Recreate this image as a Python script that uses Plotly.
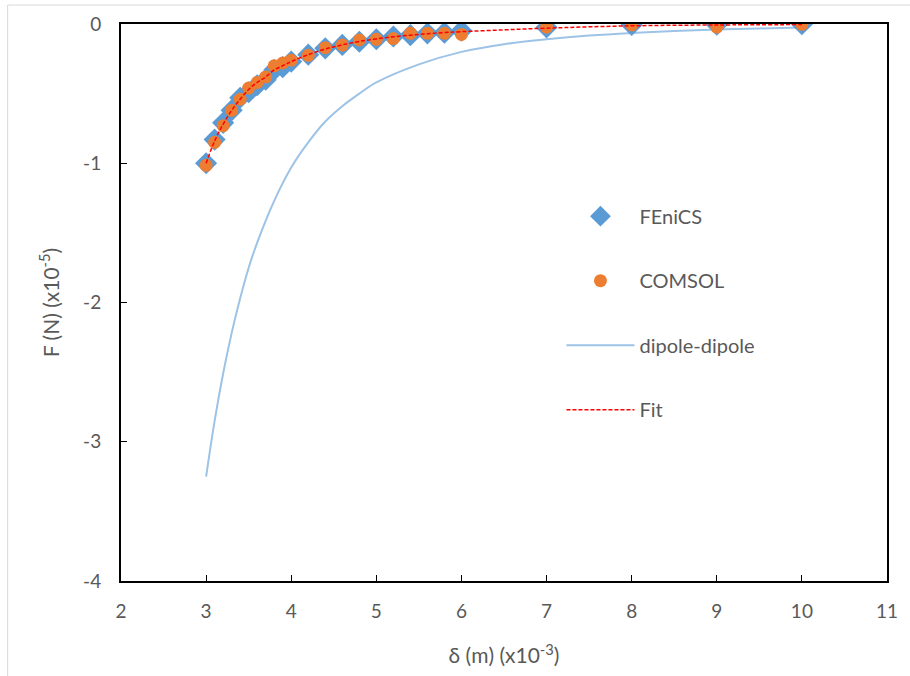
import plotly.graph_objects as go

# FEniCS data
fenics_x = [3.0, 3.1, 3.2, 3.3, 3.4, 3.5, 3.6, 3.7, 3.8, 3.9, 4.0, 4.2, 4.4, 4.6, 4.8,
            5.0, 5.2, 5.4, 5.6, 5.8, 6.0, 7, 8, 9, 10]
fenics_y = [-1.00, -0.83, -0.71, -0.62, -0.53, -0.49, -0.44, -0.40, -0.33, -0.31, -0.27,
            -0.22, -0.175, -0.15, -0.127, -0.11, -0.09, -0.08, -0.067, -0.062, -0.048,
            -0.024, -0.007, -0.005, -0.002]

# COMSOL data
comsol_x = [3.0, 3.1, 3.2, 3.3, 3.4, 3.5, 3.6, 3.7, 3.8, 3.9, 4.0, 4.2, 4.4, 4.6, 4.8,
            5.0, 5.2, 5.4, 5.6, 5.8, 6.0, 7, 8, 9, 10]
comsol_y = [-1.015, -0.85, -0.73, -0.62, -0.54, -0.46, -0.42, -0.38, -0.30, -0.28, -0.26,
            -0.225, -0.17, -0.15, -0.115, -0.11, -0.105, -0.067, -0.067, -0.067, -0.075,
            -0.022, -0.007, -0.022, -0.002]

# dipole-dipole curve
dipole_x = [3.0, 3.1, 3.2, 3.3, 3.4, 3.5, 3.6, 3.8, 4.0, 4.2, 4.4, 4.6, 4.8, 5.0, 5.5,
            6.0, 6.5, 7.0, 7.5, 8.0, 8.5, 9.0, 9.5, 10.0]
dipole_y = [-3.25, -2.85, -2.51, -2.22, -1.97, -1.75, -1.57, -1.27, -1.03, -0.85, -0.70,
            -0.59, -0.50, -0.42, -0.29, -0.20, -0.145, -0.11, -0.083, -0.064, -0.050,
            -0.040, -0.032, -0.026]

# Fit curve
fit_x = [3.0, 3.1, 3.2, 3.3, 3.4, 3.5, 3.6, 3.7, 3.8, 3.9, 4.0, 4.2, 4.4, 4.6, 4.8,
         5.0, 5.2, 5.4, 5.6, 5.8, 6.0, 6.5, 7, 8, 9, 10]
fit_y = [-1.00, -0.84, -0.72, -0.62, -0.54, -0.47, -0.42, -0.38, -0.33, -0.30, -0.27,
         -0.22, -0.18, -0.15, -0.125, -0.107, -0.092, -0.080, -0.070, -0.062, -0.055,
         -0.042, -0.030, -0.013, -0.007, -0.004]

x_ticks = [2, 3, 4, 5, 6, 7, 8, 9, 10, 11]
y_ticks = [0, -1, -2, -3, -4]
y_ticktext = ["0", "-1", "-2", "-3", "-4"]

font_family = "Lato, 'Open Sans', sans-serif"
grey = "#595959"

fig = go.Figure()
fig.add_trace(go.Scatter(x=dipole_x, y=dipole_y, mode="lines", name="dipole-dipole",
                         line=dict(color="#9DC3E6", width=2, shape="spline"),
                         legendgroup="c", legendrank=3))
fig.add_trace(go.Scatter(x=fenics_x, y=fenics_y, mode="markers", name="FEniCS",
                         marker=dict(symbol="diamond", color="#5B9BD5", size=17),
                         legendgroup="a", legendrank=1))
fig.add_trace(go.Scatter(x=comsol_x, y=comsol_y, mode="markers", name="COMSOL",
                         marker=dict(symbol="circle", color="#ED7D31", size=13),
                         legendgroup="b", legendrank=2))
fig.add_trace(go.Scatter(x=fit_x, y=fit_y, mode="lines", name="Fit",
                         line=dict(color="#FF0000", width=1.5, dash="4px,2px", shape="spline"),
                         legendgroup="d", legendrank=4))

fig.update_layout(
    width=910, height=676,
    margin=dict(l=121, r=19, t=24, b=94),
    paper_bgcolor="white", plot_bgcolor="white",
    font=dict(family=font_family, size=19, color=grey),
    showlegend=True,
    legend=dict(x=0.575, y=0.69, xanchor="left", yanchor="top",
                traceorder="grouped", tracegroupgap=35.5,
                font=dict(size=20, color=grey), itemwidth=68,
                bgcolor="rgba(0,0,0,0)"),
    xaxis=dict(range=[2, 11], tickvals=x_ticks, showgrid=False, zeroline=False,
               showline=True, linecolor="black", linewidth=2, mirror=True,
               ticks="inside", ticklen=6, tickcolor="black", tickwidth=1,
               ticklabelstandoff=12,
               tickfont=dict(size=19, color=grey),
               title=dict(text="δ (m) (x10<sup>-3</sup>)", font=dict(size=21, color=grey),
                          standoff=28)),
    yaxis=dict(range=[-4, 0], tickvals=y_ticks, ticktext=y_ticktext,
               showgrid=False, zeroline=False,
               showline=True, linecolor="black", linewidth=2, mirror=True,
               ticks="inside", ticklen=6, tickcolor="black", tickwidth=1,
               ticklabelstandoff=14,
               tickfont=dict(size=19, color=grey),
               title=dict(text="F (N) (x10<sup>-5</sup>)", font=dict(size=21, color=grey),
                          standoff=18)),
    shapes=[dict(type="rect", xref="paper", yref="paper",
                 x0=-0.148, x1=1.05, y0=-0.2, y1=1.034,
                 line=dict(color="#D9D9D9", width=1), layer="below")],
)

fig.write_html("out.html")
